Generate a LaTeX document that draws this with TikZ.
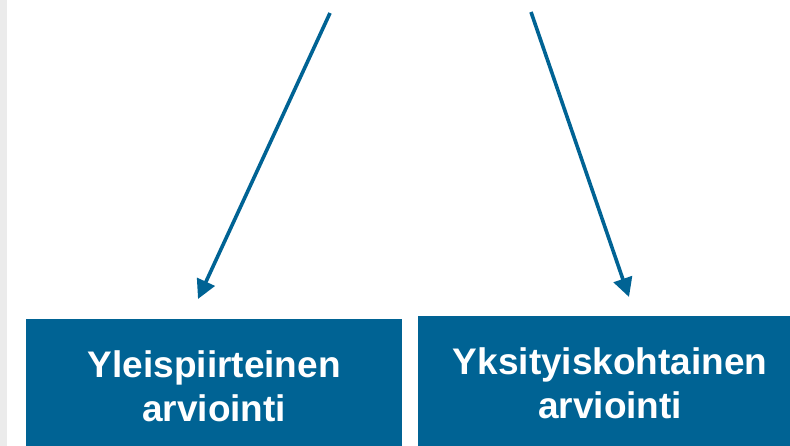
\documentclass[tikz,border=0pt]{standalone}
\usepackage{fontspec}
\setmainfont{Liberation Sans}
\usetikzlibrary{arrows.meta}
\definecolor{arvblue}{RGB}{0,99,148}
\definecolor{stripgray}{RGB}{235,235,235}
\tikzset{
  arvbox/.style={fill=arvblue,text=white,font=\bfseries\fontsize{37}{44}\selectfont,align=center,minimum height=135pt,inner sep=0pt},
  arvarrow/.style={draw=arvblue,line width=3.6pt,-{Triangle[length=19pt,width=19pt]}}
}
\begin{document}
\begin{tikzpicture}[x=1pt,y=-1pt]
\clip (0,0) rectangle (790,446);
\fill[white] (0,0) rectangle (790,446);
\fill[stripgray] (0,0) rectangle (7,446);
\node[arvbox,minimum width=376pt,anchor=north west] (yleis) at (26,319) {Yleispiirteinen\\arviointi};
\node[arvbox,minimum width=384pt,anchor=north west] (yksit) at (418,316) {Yksityiskohtainen\\arviointi};
\coordinate (ltop) at (330,13);
\coordinate (lend) at (198,299);
\coordinate (rtop) at (531,12);
\coordinate (rend) at (629,297);
\draw[arvarrow] (ltop) -- (lend);
\draw[arvarrow] (rtop) -- (rend);
\end{tikzpicture}
\end{document}
